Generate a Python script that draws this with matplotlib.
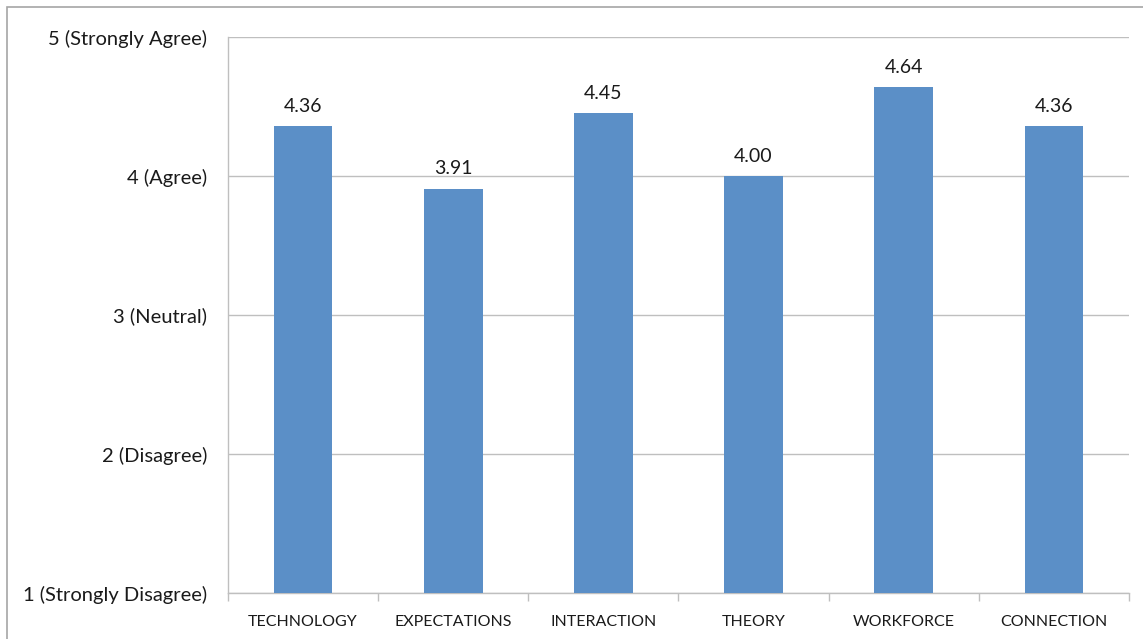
import matplotlib.pyplot as plt
from matplotlib.patches import Rectangle

# survey scores per theme
categories = ["TECHNOLOGY", "EXPECTATIONS", "INTERACTION", "THEORY", "WORKFORCE", "CONNECTION"]
scores = [4.36, 3.91, 4.45, 4.00, 4.64, 4.36]
tick_values = [1, 2, 3, 4, 5]
tick_labels = ["1 (Strongly Disagree)", "2 (Disagree)", "3 (Neutral)", "4 (Agree)", "5 (Strongly Agree)"]

plt.rcParams['font.family'] = ['Lato', 'DejaVu Sans']

fig = plt.figure(figsize=(11.43, 6.39), dpi=100)
ax = fig.add_axes([228 / 1143, 1 - 593 / 639, (1129 - 228) / 1143, (593 - 37) / 639])

# outer chart border (only top/left edges fall inside the image)
fig.patches.append(Rectangle((7 / 1143, -0.1), 1.2, 1 - 7 / 639 + 0.1,
                             transform=fig.transFigure, fill=False,
                             edgecolor="#A6A6A6", linewidth=1.2))

x = list(range(len(categories)))
ax.bar(x, scores, width=0.39, bottom=0, color="#5B8FC7", zorder=3)
for xi, s in zip(x, scores):
    ax.text(xi, s + 0.08, f"{s:.2f}", ha="center", va="bottom", fontsize=14, color="#1a1a1a")

ax.set_xlim(-0.5, len(categories) - 0.5)
ax.set_ylim(1, 5)
ax.set_yticks(tick_values)
ax.set_yticklabels(tick_labels, fontsize=14.5, color="#1a1a1a")
ax.tick_params(axis="y", length=0, pad=15)
ax.yaxis.grid(True, color="#BFBFBF", linewidth=1, zorder=0)

# category labels sit between boundary ticks
ax.set_xticks(x)
ax.set_xticklabels(categories, fontsize=11.5, color="#1a1a1a")
ax.tick_params(axis="x", length=0, pad=16)
ax.set_xticks([i - 0.5 for i in range(len(categories) + 1)], minor=True)
ax.tick_params(axis="x", which="minor", length=6, color="#BFBFBF", width=1)

for side in ["top", "right"]:
    ax.spines[side].set_visible(False)
for side in ["left", "bottom"]:
    ax.spines[side].set_color("#BFBFBF")
    ax.spines[side].set_linewidth(1)

fig.savefig("out.png", dpi=100)
